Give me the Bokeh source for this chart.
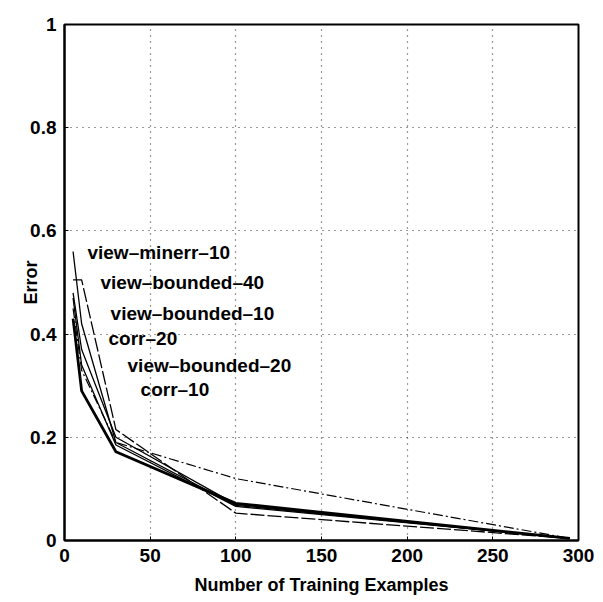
from bokeh.plotting import figure
from bokeh.models import Label, Range1d, FixedTicker
from bokeh.embed import file_html
from bokeh.resources import INLINE

# Training-set sizes and error for each method
sizes = [5, 10, 30, 100, 295]
view_minerr_10 = [0.56, 0.42, 0.19, 0.068, 0.004]
view_bounded_40 = [0.505, 0.505, 0.215, 0.053, 0.004]
view_bounded_10 = [0.48, 0.37, 0.20, 0.070, 0.004]
corr_20 = [0.47, 0.34, 0.185, 0.066, 0.004]
view_bounded_20 = [0.45, 0.33, 0.19, 0.12, 0.004]
corr_10 = [0.43, 0.29, 0.172, 0.072, 0.004]

label_names = ["view\u2013minerr\u201310", "view\u2013bounded\u201340", "view\u2013bounded\u201310",
               "corr\u201320", "view\u2013bounded\u201320", "corr\u201310"]
label_x = [13.4, 21, 26.9, 25.7, 36.8, 44.4]
label_y = [0.559, 0.50, 0.44, 0.391, 0.339, 0.293]

x_ticks = [0, 50, 100, 150, 200, 250, 300]
y_ticks = [0, 0.2, 0.4, 0.6, 0.8, 1]
y_tick_text = ["0", "0.2", "0.4", "0.6", "0.8", "1"]

FONT = "Liberation Sans"

p = figure(width=603, height=602, output_backend="svg", toolbar_location=None,
           x_range=Range1d(0, 300), y_range=Range1d(0, 1),
           min_border_left=64, min_border_right=25, min_border_top=24, min_border_bottom=62)
p.background_fill_color = "white"
p.border_fill_color = "white"
p.outline_line_color = "black"
p.outline_line_width = 2

series = [
    (view_minerr_10, 1.3, "solid"),
    (view_bounded_40, 1.3, "14 3"),
    (view_bounded_10, 1.3, "solid"),
    (corr_20, 1.3, "solid"),
    (view_bounded_20, 1.2, "10 3 2 3"),
    (corr_10, 2.8, "solid"),
]
for ys, w, dash in series:
    p.line(sizes, ys, line_color="black", line_width=w, line_dash=dash)

for name, lx, ly in zip(label_names, label_x, label_y):
    p.add_layout(Label(x=lx, y=ly, text=name, text_font=FONT, text_font_size="19px",
                       text_font_style="bold", text_baseline="middle", text_align="left",
                       text_color="black"))

for ax in (p.xaxis[0], p.yaxis[0]):
    ax.axis_line_width = 2
    ax.axis_line_color = "black"
    ax.major_tick_in = 4
    ax.major_tick_out = 0
    ax.minor_tick_line_color = None
    ax.major_label_text_font = FONT
    ax.major_label_text_font_size = "19px"
    ax.major_label_text_font_style = "bold"
    ax.major_label_text_color = "black"
    ax.axis_label_text_font = FONT
    ax.axis_label_text_font_size = "18px"
    ax.axis_label_text_font_style = "bold"
    ax.axis_label_text_color = "black"

p.xaxis.ticker = FixedTicker(ticks=x_ticks)
p.yaxis.ticker = FixedTicker(ticks=y_ticks)
p.yaxis.major_label_overrides = {t: s for t, s in zip(y_ticks, y_tick_text)}
p.xaxis.major_label_standoff = 8
p.yaxis.major_label_standoff = 8
p.xaxis.axis_label = "Number of Training Examples"
p.yaxis.axis_label = "Error"
p.xaxis.axis_label_standoff = 10
p.yaxis.axis_label_standoff = -14

for g in (p.xgrid[0], p.ygrid[0]):
    g.grid_line_color = "black"
    g.grid_line_dash = "1 5"
    g.grid_line_width = 1.2
    g.grid_line_alpha = 0.8

open("out.html", "w").write(file_html(p, INLINE))
